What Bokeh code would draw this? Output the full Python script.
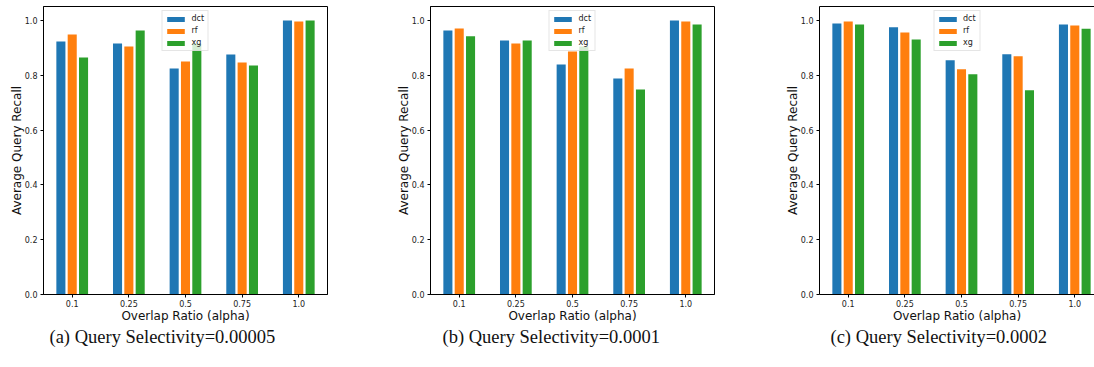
import numpy as np
from bokeh.plotting import figure
from bokeh.models import (Range1d, FixedTicker, Legend, LegendItem, Title,
                          LinearAxis, ColumnDataSource, NumeralTickFormatter)
from bokeh.layouts import row
from bokeh.embed import file_html
from bokeh.resources import INLINE

# ---- data ----
ALPHAS = ["0.1", "0.25", "0.5", "0.75", "1.0"]
MODELS = ["dct", "rf", "xg"]
COLORS = ["#1f77b4", "#ff7f0e", "#2ca02c"]

A_DCT = [0.923, 0.916, 0.825, 0.876, 1.000]
A_RF = [0.949, 0.905, 0.850, 0.847, 0.996]
A_XG = [0.865, 0.963, 0.915, 0.836, 1.000]

B_DCT = [0.963, 0.927, 0.839, 0.788, 1.000]
B_RF = [0.971, 0.916, 0.887, 0.825, 0.996]
B_XG = [0.942, 0.927, 0.905, 0.748, 0.985]

C_DCT = [0.989, 0.975, 0.855, 0.877, 0.985]
C_RF = [0.996, 0.956, 0.822, 0.869, 0.982]
C_XG = [0.985, 0.931, 0.804, 0.745, 0.970]

SUBTITLES = ["(a) Query Selectivity=0.00005",
             "(b) Query Selectivity=0.0001",
             "(c) Query Selectivity=0.0002"]
YTICKS = [0.0, 0.2, 0.4, 0.6, 0.8, 1.0]

SERIES = [[A_DCT, A_RF, A_XG], [B_DCT, B_RF, B_XG], [C_DCT, C_RF, C_XG]]

# ---- layout (per panel) ----
HEIGHT = 367
WIDTHS = [387, 389, 318]
BORDER_L = 43
BORDER_R = [60, 62, 0]
X_END = [4.507, 4.507, 4.348]
SUB_OFFSET = [6, 12, 11]      # subtitle start, px right of the frame's left edge
SUB_GAP = 17                  # empty band between x-axis label and subtitle
OFFSETS = [-0.2, 0.0, 0.2]
BAR_W = 0.16
FONT = "DejaVu Sans"


def blank_axis(extent):
    """An axis without ticks or labels, used as a spine or as a spacer."""
    return LinearAxis(ticker=FixedTicker(ticks=[]), major_tick_out=extent,
                      major_tick_in=0, minor_tick_out=0, minor_tick_in=0,
                      major_label_standoff=0, axis_label_standoff=0,
                      major_label_text_font_size="0px",
                      major_tick_line_color="white",
                      minor_tick_line_color="white")


figs = []
for i in range(3):
    p = figure(width=WIDTHS[i], height=HEIGHT,
               x_range=Range1d(-0.507, X_END[i]), y_range=Range1d(0, 1.051),
               output_backend="svg", toolbar_location=None,
               min_border_left=BORDER_L, min_border_right=BORDER_R[i],
               min_border_top=6, min_border_bottom=73)
    p.xgrid.visible = False
    p.ygrid.visible = False
    p.background_fill_color = "white"
    p.border_fill_color = "white"
    xa = p.below[0]
    ya = p.left[0]

    if i < 2:
        p.outline_line_color = "black"
        p.outline_line_width = 1
    else:
        p.outline_line_color = None
        top = blank_axis(0)
        top.axis_line_color = "black"
        p.add_layout(top, "above")

    idx = np.arange(len(ALPHAS))
    items = []
    for k, vals in enumerate(SERIES[i]):
        src = ColumnDataSource(dict(x=idx + OFFSETS[k], top=vals))
        r = p.vbar(x="x", top="top", bottom=0, width=BAR_W, source=src,
                   fill_color=COLORS[k], line_color=None)
        items.append(LegendItem(label=MODELS[k], renderers=[r]))

    leg = Legend(items=items, location="top_center", orientation="vertical",
                 glyph_width=22, glyph_height=6, label_height=11,
                 label_width=14, spacing=1, padding=2, margin=4,
                 label_standoff=5, label_text_font_size="8px",
                 label_text_font=FONT, label_text_color="#222222",
                 border_line_color="#cccccc", border_line_width=1,
                 background_fill_color="white", background_fill_alpha=0.8)
    p.add_layout(leg)

    xa.ticker = FixedTicker(ticks=list(range(len(ALPHAS))))
    xa.major_label_overrides = {j: a for j, a in enumerate(ALPHAS)}
    xa.axis_label = "Overlap Ratio (alpha)"
    ya.ticker = FixedTicker(ticks=YTICKS)
    ya.formatter = NumeralTickFormatter(format="0.0")
    ya.axis_label = "Average Query Recall"
    for ax in (xa, ya):
        ax.axis_label_text_font = FONT
        ax.axis_label_text_font_size = "12px"
        ax.axis_label_text_font_style = "normal"
        ax.axis_label_text_color = "#111111"
        ax.major_label_text_font = FONT
        ax.major_label_text_font_size = "8px"
        ax.major_label_text_color = "#222222"
        ax.major_tick_out = 3
        ax.major_tick_in = 0
        ax.minor_tick_out = 0
        ax.minor_tick_in = 0
        ax.axis_line_color = "black"
        ax.major_tick_line_color = "black"
    xa.major_label_standoff = 2
    xa.axis_label_standoff = -1
    ya.major_label_standoff = 3
    ya.axis_label_standoff = -2

    spacer = blank_axis(SUB_GAP)
    spacer.axis_line_color = None
    p.add_layout(spacer, "below")

    t = Title(text=SUBTITLES[i], align="left", offset=SUB_OFFSET[i],
              vertical_align="middle", standoff=0,
              text_font="Liberation Serif", text_font_size="18.5px",
              text_font_style="normal", text_color="#111111")
    p.add_layout(t, "below")
    figs.append(p)

layout = row(*figs, spacing=0)
open("out.html", "w").write(file_html(layout, INLINE))
